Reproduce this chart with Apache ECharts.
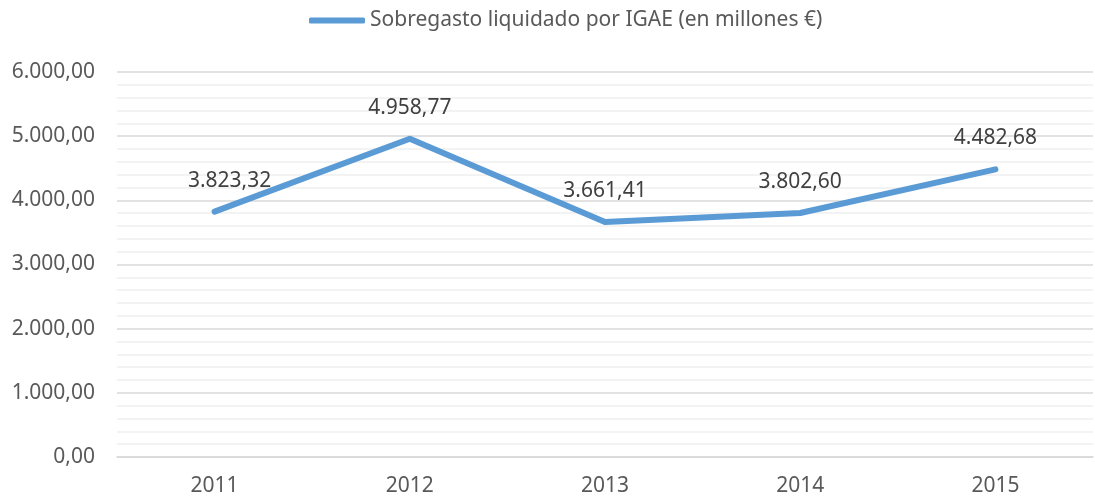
<!DOCTYPE html>
<html>
<head>
<meta charset="utf-8">
<script src="https://cdn.jsdelivr.net/npm/echarts@6/dist/echarts.min.js"></script>
<style>
  html, body { margin: 0; padding: 0; background: #fff; }
  #chart { width: 1095px; height: 502px; }
</style>
</head>
<body>
<div id="chart"></div>
<script>
const years = ['2011', '2012', '2013', '2014', '2015']
const sobregasto = [3823.32, 4958.77, 3661.41, 3802.60, 4482.68]
const seriesName = 'Sobregasto liquidado por IGAE (en millones €)'

const fmt = v => {
  const parts = v.toFixed(2).split('.')
  parts[0] = parts[0].replace(/\B(?=(\d{3})+(?!\d))/g, '.')
  return parts.join(',')
}

const chart = echarts.init(document.getElementById('chart'))

const option = {
  animation: false,
  textStyle: { fontFamily: 'Noto Sans' },
  legend: {
    top: 5,
    left: 304,
    itemWidth: 56,
    itemHeight: 6,
    itemGap: 10,
    icon: 'roundRect',
    textStyle: { fontSize: 21, color: '#595959', padding: [0, 0, 0, 0] },
    data: [seriesName]
  },
  grid: {
    left: 117,
    right: 2,
    top: 72,
    bottom: 45
  },
  xAxis: {
    type: 'category',
    data: years,
    axisLine: { show: true, lineStyle: { color: '#d9d9d9', width: 1.5 } },
    axisTick: { show: false },
    axisLabel: { fontSize: 21, color: '#595959', margin: 19 }
  },
  yAxis: {
    type: 'value',
    min: 0,
    max: 6000,
    interval: 1000,
    axisLine: { show: false },
    axisTick: { show: false },
    axisLabel: { fontSize: 21, color: '#595959', margin: 22, formatter: fmt },
    splitLine: { lineStyle: { color: '#d9d9d9', width: 1.5 } },
    minorTick: { show: false, splitNumber: 5 },
    minorSplitLine: { show: true, lineStyle: { color: '#f0f0f0', width: 1.5 } }
  },
  series: [{
    name: seriesName,
    type: 'line',
    data: sobregasto.map((v, i) => i === 0
      ? { value: v, label: { offset: [15, 0] } }
      : v),
    symbol: 'circle',
    symbolSize: 1,
    lineStyle: { color: '#5b9bd5', width: 6, cap: 'round', join: 'round' },
    itemStyle: { color: '#5b9bd5' },
    label: {
      show: true,
      position: 'top',
      distance: 20,
      fontSize: 21,
      color: '#404040',
      formatter: p => fmt(p.value)
    }
  }]
}

chart.setOption(option)
</script>
</body>
</html>
